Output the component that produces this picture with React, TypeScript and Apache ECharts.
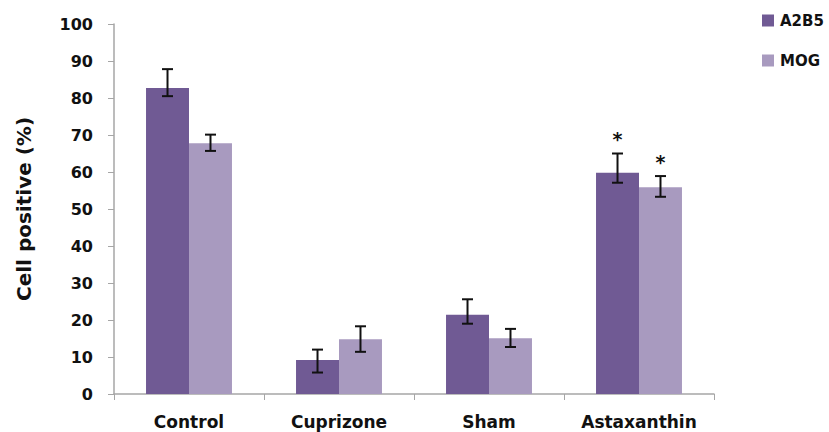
import React, { useEffect, useRef } from "react";
import * as echarts from "echarts";

const categories = ["Control", "Cuprizone", "Sham", "Astaxanthin"];
const seriesNames = ["A2B5", "MOG"];
const a2b5Values = [82.7, 9.2, 21.4, 59.8];
const mogValues = [67.8, 14.8, 15.1, 55.9];
const a2b5Upper = [87.8, 12.0, 25.6, 65.0];
const a2b5Lower = [80.5, 5.8, 19.0, 57.1];
const mogUpper = [70.1, 18.3, 17.6, 58.9];
const mogLower = [65.7, 11.4, 12.7, 53.3];
const a2b5Marks = ["", "", "", "*"];
const mogMarks = ["", "", "", "*"];
const yTicks = [0, 10, 20, 30, 40, 50, 60, 70, 80, 90, 100];

const COLORS = ["#705a94", "#a89abf"];
const GAP = 0.427;
const FONT = "DejaVu Sans";

function errorSeries(idx: number, upper: number[], lower: number[], marks: string[]) {
  const data = categories.map((c, i) => [i, lower[i], upper[i], marks[i]]);
  return {
    type: "custom",
    name: seriesNames[idx] + "-err",
    silent: true,
    z: 5,
    data,
    encode: { x: 0, y: [1, 2] },
    renderItem: (params: any, api: any) => {
      const i = api.value(0);
      const lo = api.coord([i, api.value(1)]);
      const hi = api.coord([i, api.value(2)]);
      const band = api.size([1, 0])[0];
      const bw = (band * (1 - GAP)) / 2;
      const x = lo[0] + (idx === 0 ? -bw / 2 : bw / 2);
      const cap = 5.5;
      const style = { stroke: "#111", lineWidth: 2 };
      const children: any[] = [
        { type: "line", shape: { x1: x, y1: lo[1], x2: x, y2: hi[1] }, style },
        { type: "line", shape: { x1: x - cap, y1: lo[1], x2: x + cap, y2: lo[1] }, style },
        { type: "line", shape: { x1: x - cap, y1: hi[1], x2: x + cap, y2: hi[1] }, style },
      ];
      const m = marks[i];
      if (m) {
        children.push({
          type: "text",
          style: {
            text: m,
            x,
            y: hi[1] - 5,
            align: "center",
            verticalAlign: "bottom",
            fontSize: 19,
            fontWeight: "bold",
            fontFamily: "DejaVu Sans",
            fill: "#111",
          },
        });
      }
      return { type: "group", children };
    },
  };
}

export default function App() {
  const ref = useRef<HTMLDivElement>(null);
  useEffect(() => {
    if (!ref.current) return;
    const chart = echarts.init(ref.current, undefined, { renderer: "svg" });
    chart.setOption({
      animation: false,
      backgroundColor: "#ffffff",
      grid: { left: 114, top: 24, right: 115, bottom: 38 },
      legend: {
        orient: "vertical",
        left: 762,
        top: 13,
        padding: 0,
        itemWidth: 12,
        itemHeight: 12,
        itemGap: 25,
        icon: "rect",
        data: seriesNames,
        textStyle: { fontSize: 15, fontWeight: "bold", color: "#111", fontFamily: FONT, padding: [0, 0, 0, 1] },
      },
      xAxis: {
        type: "category",
        data: categories,
        axisLine: { lineStyle: { color: "#a6a6a6", width: 1.5 } },
        axisTick: { show: true, length: 6, alignWithLabel: false, lineStyle: { color: "#a6a6a6" } },
        axisLabel: {
          interval: 0,
          hideOverlap: false,
          fontSize: 17,
          fontWeight: "bold",
          color: "#111",
          fontFamily: FONT,
          margin: 19,
        },
      },
      yAxis: {
        type: "value",
        min: 0,
        max: 100,
        interval: 10,
        name: "Cell positive (%)",
        nameLocation: "middle",
        nameGap: 80,
        nameTextStyle: { fontSize: 20, fontWeight: "bold", color: "#111", fontFamily: FONT },
        axisLine: { show: true, lineStyle: { color: "#a6a6a6", width: 1.5 } },
        axisTick: { show: true, length: 6, lineStyle: { color: "#a6a6a6" } },
        splitLine: { show: false },
        axisLabel: {
          fontSize: 16,
          fontWeight: "bold",
          color: "#111",
          fontFamily: FONT,
          margin: 21,
          formatter: (v: number) => (yTicks.includes(v) ? String(v) : ""),
        },
      },
      series: [
        {
          type: "bar",
          name: seriesNames[0],
          data: a2b5Values,
          itemStyle: { color: COLORS[0] },
          barGap: "0%",
          barCategoryGap: GAP * 100 + "%",
        },
        {
          type: "bar",
          name: seriesNames[1],
          data: mogValues,
          itemStyle: { color: COLORS[1] },
          barGap: "0%",
          barCategoryGap: GAP * 100 + "%",
        },
        errorSeries(0, a2b5Upper, a2b5Lower, a2b5Marks),
        errorSeries(1, mogUpper, mogLower, mogMarks),
      ],
    });
    return () => chart.dispose();
  }, []);
  return (
    <div
      ref={ref}
      style={{ position: "absolute", left: 0, top: 0, width: 829, height: 432 }}
    />
  );
}
